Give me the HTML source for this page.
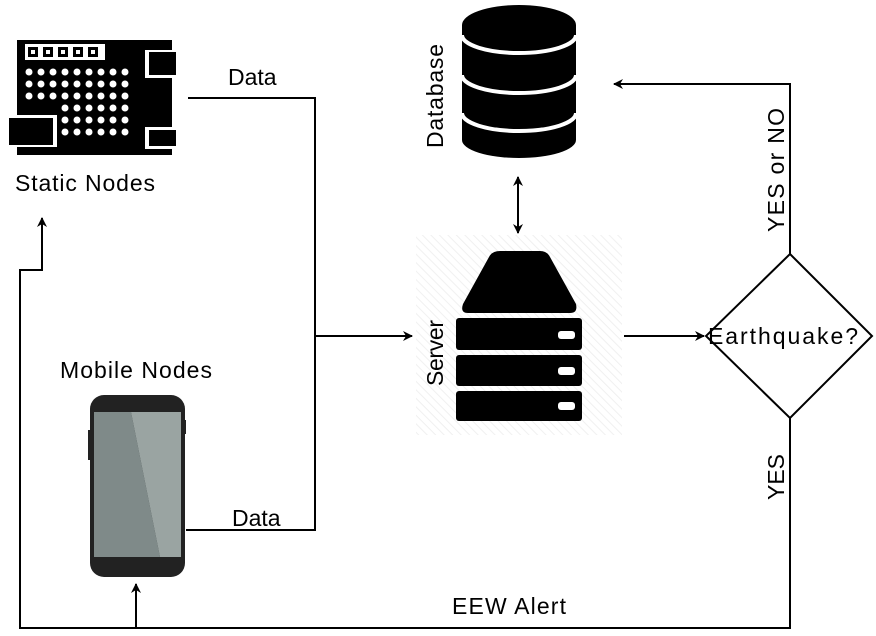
<!DOCTYPE html>
<html><head><style>body{margin:0;background:#fff}svg{display:block}text{font-family:"Liberation Sans",sans-serif;font-size:23px;fill:#000}</style></head><body>
<svg width="876" height="636" viewBox="0 0 876 636" xmlns="http://www.w3.org/2000/svg">
<defs>
<pattern id="h" width="6" height="6" patternUnits="userSpaceOnUse" patternTransform="rotate(-45)"><rect width="6" height="6" fill="#fff"/><line x1="0" y1="0" x2="0" y2="6" stroke="#f0f0f0" stroke-width="2"/></pattern>
<marker id="a" markerWidth="10" markerHeight="10" refX="9" refY="5" orient="auto" markerUnits="userSpaceOnUse"><path d="M0,0 L10,5 L0,10 L3,5z" fill="#000"/></marker>
</defs>
<rect x="17" y="40" width="155" height="115" fill="#000"/>
<g fill="#fff"><rect x="25" y="44" width="80" height="16"/></g>
<g fill="#000"><rect x="28" y="47" width="10" height="10"/><rect x="43" y="47" width="10" height="10"/><rect x="58" y="47" width="10" height="10"/><rect x="73" y="47" width="10" height="10"/><rect x="88" y="47" width="10" height="10"/></g>
<g fill="#fff"><rect x="31" y="50" width="4" height="4"/><rect x="46" y="50" width="4" height="4"/><rect x="61" y="50" width="4" height="4"/><rect x="76" y="50" width="4" height="4"/><rect x="91" y="50" width="4" height="4"/></g>
<g fill="#fff">
<g id="r"><circle cx="29" cy="72" r="3.5"/><circle cx="41" cy="72" r="3.5"/><circle cx="53" cy="72" r="3.5"/><circle cx="65" cy="72" r="3.5"/><circle cx="77" cy="72" r="3.5"/><circle cx="89" cy="72" r="3.5"/><circle cx="101" cy="72" r="3.5"/><circle cx="113" cy="72" r="3.5"/><circle cx="125" cy="72" r="3.5"/></g>
<use href="#r" y="12"/><use href="#r" y="24"/>
<g id="r2"><circle cx="65" cy="108" r="3.5"/><circle cx="77" cy="108" r="3.5"/><circle cx="89" cy="108" r="3.5"/><circle cx="101" cy="108" r="3.5"/><circle cx="113" cy="108" r="3.5"/><circle cx="125" cy="108" r="3.5"/></g>
<use href="#r2" y="12"/><use href="#r2" y="24"/>
<rect x="145" y="50" width="35" height="28"/><rect x="145" y="127" width="35" height="22"/><rect x="7" y="115" width="50" height="32"/>
</g>
<rect x="149" y="52" width="27" height="23" fill="#000"/><rect x="149" y="130" width="27" height="16" fill="#000"/><rect x="9" y="118" width="44" height="27" fill="#000"/>
<text x="15" y="191" textLength="140">Static Nodes</text>
<path d="M462,25 A57,20 0 0 1 576,25 L576,140 A57,18 0 0 1 462,140 Z" fill="#000"/>
<g fill="none" stroke="#fff" stroke-width="4"><path d="M462,35 A57,18 0 0 0 576,35"/><path d="M462,75 A57,18 0 0 0 576,75"/><path d="M462,113 A57,18 0 0 0 576,113"/></g>
<text transform="translate(443,148) rotate(-90)" textLength="104">Database</text>
<rect x="416" y="235" width="206" height="200" fill="url(#h)"/>
<path d="M500,251 L540,251 Q547,251 550,257 L576,304 Q578,313 570,313 L468,313 Q460,313 463,304 L489,257 Q492,251 500,251Z" fill="#000"/>
<rect x="456" y="318" width="126" height="32" rx="3" fill="#000"/>
<rect x="456" y="355" width="126" height="31" rx="3" fill="#000"/>
<rect x="456" y="391" width="126" height="30" rx="3" fill="#000"/>
<g fill="#fff"><rect x="558" y="331" width="17" height="8" rx="3"/><rect x="558" y="367" width="17" height="8" rx="3"/><rect x="558" y="402" width="17" height="8" rx="3"/></g>
<text transform="translate(443,386) rotate(-90)" textLength="66">Server</text>
<rect x="90" y="395" width="95" height="182" rx="14" fill="#222"/>
<rect x="88" y="430" width="4" height="30" fill="#222"/><rect x="182" y="420" width="4" height="14" fill="#222"/>
<path d="M94,412 L131,412 L160,557 L94,557Z" fill="#7f8a89"/>
<path d="M131,412 L181,412 L181,557 L160,557Z" fill="#9aa4a2"/>
<text x="60" y="378" textLength="152">Mobile Nodes</text>
<path d="M790,254 L872,336 L790,418 L706,336Z" fill="#fff" stroke="#000" stroke-width="2"/>
<text x="708" y="344" textLength="150">Earthquake?</text>
<g fill="none" stroke="#000" stroke-width="2">
<path d="M188,98 L315,98 L315,530 L186,530"/>
<path d="M315,336 L412,336" marker-end="url(#a)"/>
<path d="M624,336 L704,336" marker-end="url(#a)"/>
<path d="M790,254 L790,84 L614,84" marker-end="url(#a)"/>
<path d="M790,418 L790,628 L20,628 L20,270 L42,270 L42,218" marker-end="url(#a)"/>
<path d="M136,628 L136,584" marker-end="url(#a)"/>
<path d="M518,190 L518,233" marker-end="url(#a)"/>
<path d="M518,200 L518,177" marker-end="url(#a)"/>
</g>
<text x="228" y="85">Data</text>
<text x="232" y="526">Data</text>
<text x="452" y="614" textLength="114">EEW Alert</text>
<text transform="translate(784,232) rotate(-90)" textLength="124">YES or NO</text>
<text transform="translate(784,500) rotate(-90)">YES</text>
</svg>
</body></html>
